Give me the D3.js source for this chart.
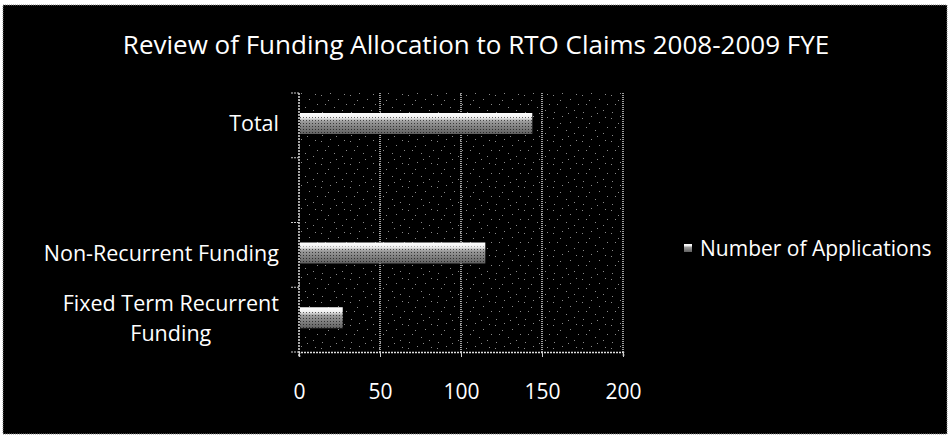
<!DOCTYPE html>
<html><head><meta charset="utf-8">
<script src="https://cdn.jsdelivr.net/npm/d3@7"></script>
<style>html,body{margin:0;padding:0;background:#fff;}svg{display:block;}text{font-family:"Open Sans",sans-serif;fill:#fff;}</style>
</head><body>
<svg id="c" width="951" height="437"></svg>
<script>
// Data
const categories = ["Total", "", "Non-Recurrent Funding", "Fixed Term Recurrent Funding"];
const values = [144, null, 115, 27];
const xTicks = [0, 50, 100, 150, 200];
const seriesName = "Number of Applications";
const title = "Review of Funding Allocation to RTO Claims 2008-2009 FYE";

const svg = d3.select("#c");
const m = {left: 299, right: 623, top: 93, bottom: 352};

svg.append("rect").attr("x", 3).attr("y", 5).attr("width", 944).attr("height", 429)
  .attr("fill", "#000").attr("stroke", "#888").attr("stroke-dasharray", "1,1");

const defs = svg.append("defs");
const pat = defs.append("pattern").attr("id", "dots").attr("patternUnits", "userSpaceOnUse")
  .attr("width", 29).attr("height", 23);
[[2,3],[11,1],[19,7],[25,2],[6,12],[15,15],[23,18],[3,20],[9,8],[27,12],[17,21]].forEach(p => {
  pat.append("rect").attr("x", p[0]).attr("y", p[1]).attr("width", 1).attr("height", 1).attr("fill", "#8a8a8a");
});
const grad = defs.append("linearGradient").attr("id", "barg").attr("x1", 0).attr("y1", 0).attr("x2", 0).attr("y2", 1);
grad.append("stop").attr("offset", "0%").attr("stop-color", "#ffffff");
grad.append("stop").attr("offset", "22%").attr("stop-color", "#f0f0f0");
grad.append("stop").attr("offset", "40%").attr("stop-color", "#9a9a9a");
grad.append("stop").attr("offset", "100%").attr("stop-color", "#606060");
const barPat = defs.append("pattern").attr("id", "bardots").attr("patternUnits", "userSpaceOnUse")
  .attr("width", 3).attr("height", 3);
barPat.append("rect").attr("x", 0).attr("y", 0).attr("width", 1).attr("height", 1).attr("fill", "#000").attr("opacity", 0.6);

const x = d3.scaleLinear().domain([0, 200]).range([m.left, m.right]);
const yb = d3.scaleBand().domain(categories.map((c, i) => i)).range([m.top, m.bottom]);

svg.append("rect").attr("x", m.left).attr("y", m.top).attr("width", m.right - m.left).attr("height", m.bottom - m.top)
  .attr("fill", "url(#dots)");

svg.append("g").selectAll("line").data(xTicks.slice(1)).join("line")
  .attr("x1", d => x(d)).attr("x2", d => x(d)).attr("y1", m.top).attr("y2", m.bottom)
  .attr("stroke", "#cfcfcf").attr("stroke-width", 1.5).attr("stroke-dasharray", "1,1");

const bars = categories.map((c, i) => ({i, v: values[i]})).filter(d => d.v != null);
const bh = 21;
svg.append("g").selectAll("rect").data(bars).join("rect")
  .attr("x", x(0) + 1).attr("y", d => yb(d.i) + 20).attr("width", d => x(d.v) - x(0) - 1).attr("height", bh)
  .attr("fill", "url(#barg)");
svg.append("g").selectAll("rect").data(bars).join("rect")
  .attr("x", x(0) + 1).attr("y", d => yb(d.i) + 24).attr("width", d => x(d.v) - x(0) - 1).attr("height", bh - 4)
  .attr("fill", "url(#bardots)");

const xAxis = d3.axisBottom(x).tickValues(xTicks).tickSize(5);
const gx = svg.append("g").attr("transform", `translate(0,${m.bottom})`).call(xAxis);
gx.select(".domain").attr("stroke", "#ddd").attr("stroke-dasharray", "2,1").attr("stroke-width", 1.5);
gx.selectAll(".tick line").attr("stroke", "#ccc");
gx.selectAll(".tick text").attr("fill", "#fff").attr("y", 47).attr("dy", null)
  .style("font-size", "21px").style("font-family", "'Open Sans',sans-serif");

svg.append("line").attr("x1", m.left).attr("x2", m.left).attr("y1", m.top).attr("y2", m.bottom + 5)
  .attr("stroke", "#ddd").attr("stroke-width", 1.5).attr("stroke-dasharray", "2,1");
const bounds = categories.map((c, i) => yb(i)).concat([m.bottom]);
svg.append("g").selectAll("line").data(bounds).join("line")
  .attr("x1", m.left - 8).attr("x2", m.left).attr("y1", d => d).attr("y2", d => d)
  .attr("stroke", "#ccc").attr("stroke-dasharray", "2,1");

const wrap = {"Fixed Term Recurrent Funding": ["Fixed Term Recurrent", "Funding"]};
const lab = svg.append("g");
categories.forEach((c, i) => {
  if (!c) return;
  const lines = wrap[c] || [c];
  const cy = yb(i) + yb.bandwidth() / 2;
  const lh = 30;
  const g = lab.append("g");
  const t = g.append("text").attr("text-anchor", "middle").style("font-size", "21.5px");
  lines.forEach((l, k) => {
    t.append("tspan").attr("x", 0).attr("y", cy + (k - (lines.length - 1) / 2) * lh + 6).text(l);
  });
  const w = t.node().getBBox().width;
  g.attr("transform", `translate(${279 - w / 2},0)`);
});

svg.append("text").attr("x", 476).attr("y", 54).attr("text-anchor", "middle")
  .style("font-size", "26px").text(title);

svg.append("rect").attr("x", 684).attr("y", 244).attr("width", 8).attr("height", 8).attr("fill", "url(#barg)");
svg.append("text").attr("x", 700).attr("y", 256).style("font-size", "21px").text(seriesName);
</script>
</body></html>
